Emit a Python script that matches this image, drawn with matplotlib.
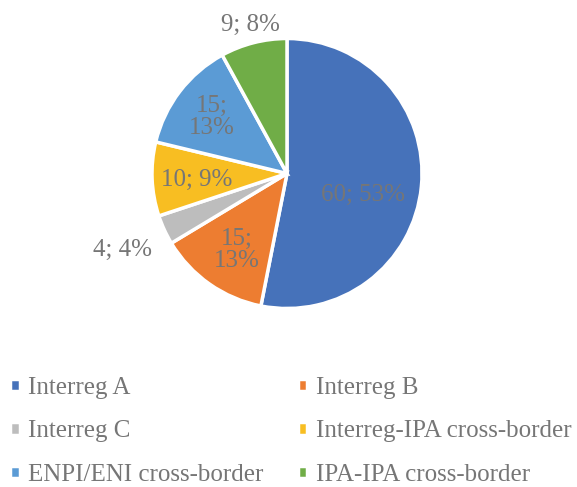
import matplotlib
matplotlib.use("Agg")
import matplotlib.pyplot as plt

plt.rcParams["font.family"] = ["Liberation Serif", "DejaVu Serif"]

# 数据
categories = ["Interreg A", "Interreg B", "Interreg C",
              "Interreg-IPA cross-border", "ENPI/ENI cross-border", "IPA-IPA cross-border"]
values = [60, 15, 4, 10, 15, 9]
colors = ["#4672BA", "#ED7D31", "#BDBDBD", "#F8BE22", "#5B9BD5", "#70AD47"]

# 标签位置 (以半径为单位, 相对圆心)
label_pos = [(0.563, -0.159), (-0.37, -0.567), (-1.22, -0.567),
             (-0.667, -0.048), (-0.556, 0.419), (-0.274, 1.1)]
label_break = [False, True, False, False, True, False]

W, H = 577, 487
fig = plt.figure(figsize=(W / 100, H / 100), dpi=100)
ax = fig.add_axes([0, 0, 1, 1])

cx, cy, R = 287, H - 173.5, 135
wedges, _ = ax.pie(values, colors=colors, startangle=90, counterclock=False,
                   center=(cx, cy), radius=R, frame=True,
                   wedgeprops=dict(edgecolor="white", linewidth=2.5))
ax.set_xlim(0, W)
ax.set_ylim(0, H)
ax.axis("off")

total = sum(values)
text_color = "#767676"
for v, (px, py), brk in zip(values, label_pos, label_break):
    pct = round(v / total * 100)
    sep = ";\n" if brk else "; "
    ax.text(cx + px * R, cy + py * R, f"{v}{sep}{pct}%", ha="center", va="center",
            fontsize=18, color=text_color, linespacing=1.0)

# 图例按行排列
order = [0, 2, 4, 1, 3, 5]
leg = ax.legend([wedges[i] for i in order], [categories[i] for i in order],
                ncol=2, loc="upper left",
                bbox_to_anchor=(10 / W, 1 - 377 / H), bbox_transform=ax.transAxes,
                frameon=False, fontsize=18, handlelength=0.38, handleheight=0.38,
                handletextpad=0.35, columnspacing=1.36, labelspacing=0.86,
                borderpad=0, borderaxespad=0, labelcolor=text_color)

fig.savefig("out.png", dpi=100)
